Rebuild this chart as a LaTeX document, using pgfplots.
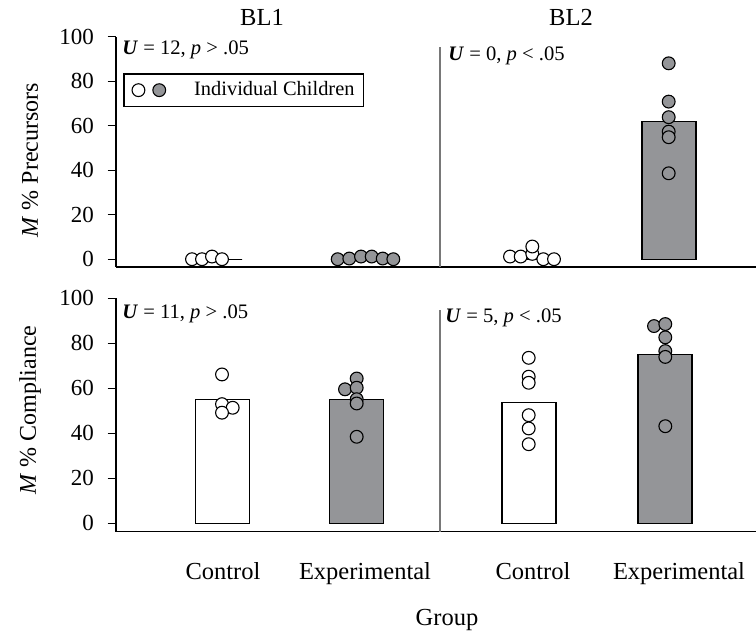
\documentclass[border=0pt]{standalone}
\usepackage{fontspec}
\setmainfont{Liberation Serif}
\usepackage{pgfplots}
\pgfplotsset{compat=1.18}
\definecolor{barg}{RGB}{148,149,152}
\definecolor{sepg}{RGB}{120,120,120}

\tikzset{annot/.style={anchor=west, font=\fontsize{10.3}{12}\selectfont, inner sep=0pt}}
\pgfplotsset{
  panel/.style={
    scale only axis, width=320pt,
    xmin=116, xmax=756,
    axis lines*=left,
    axis line style={black, line width=0.75pt},
    ytick={0,20,40,60,80,100},
    tick align=outside,
    major tick length=4.2pt,
    ytick style={black, line width=0.6pt},
    xtick style={draw=none},
    /pgf/number format/assume math mode=true,
    yticklabel style={font=\fontsize{11.5}{13}\selectfont, xshift=-3.3pt},
    clip=false,
  },
  circW/.style={forget plot, only marks, mark=*, mark size=3.2pt,
    mark options={draw=black, fill=white, line width=0.55pt}},
  circG/.style={forget plot, only marks, mark=*, mark size=3.2pt,
    mark options={draw=black, fill=barg, line width=0.55pt}},
  barW/.style={forget plot, ybar, bar shift=0pt, bar width=54, draw=black, line width=0.6pt, fill=white},
  barG/.style={forget plot, ybar, bar shift=0pt, bar width=54, draw=black, line width=0.6pt, fill=barg},
}

\begin{document}
\begin{tikzpicture}
\path[use as bounding box] (0,0) rectangle (378pt,317pt);

% ---------------- Top row: M % Precursors ----------------
\begin{axis}[panel,
  at={(58pt,183.5pt)}, anchor=south west,
  height=115.2pt, ymin=-3.5, ymax=100,
  xtick=\empty,
  legend style={at={(0.0125,0.8377)}, anchor=north west,
    draw=black, line width=0.6pt, inner xsep=3.75pt, inner ysep=3.8pt, outer sep=0pt,
    nodes={inner sep=0pt, text depth=0.15em},
    font=\fontsize{10.2}{12}\selectfont},
  legend cell align=left,
]
% bars (means)
\addplot[barW] coordinates {(215,0) (532,1.5)};
\addplot[barG] coordinates {(365,0) (669,62)};
% individual children
\addplot[circW] coordinates {
  (192,0) (202,0) (212,1.2) (222,0)
  (510,1.2) (520.7,1.2) (532.3,2.4) (532.3,5.7) (543.3,0) (554,0)
};
\addplot[circG] coordinates {
  (337.7,0) (349.3,0.3) (361,1.2) (371.7,1.2) (382.7,0.3) (393.3,0)
  (668.7,88.0) (668.7,70.8) (668.7,63.8) (668.7,57.3) (668.7,54.8) (668.7,38.6)
};
\draw[sepg, line width=1pt] (axis cs:440,-3.5) -- (axis cs:440,95.4);
\node[annot] at (axis cs:122,94.0) {\textbf{\textit{U}} = 12, \textit{p} > .05};
\node[annot] at (axis cs:448,91.3) {\textbf{\textit{U}} = 0, \textit{p} < .05};
\addlegendimage{legend image code/.code={
  \draw[black, line width=0.55pt, fill=white] (3.2pt,0pt) circle (3.2pt);
  \draw[black, line width=0.55pt, fill=barg] (13.6pt,0pt) circle (3.2pt);}}
\addlegendentry{\hspace*{14pt}Individual Children\hspace*{0.8pt}}
\end{axis}

% ---------------- Bottom row: M % Compliance ----------------
\begin{axis}[panel,
  at={(58pt,51.25pt)}, anchor=south west,
  height=116.55pt, ymin=-3.6, ymax=100,
  xtick={223,365,533,679},
  xticklabels={Control, Experimental, Control, Experimental},
  xticklabel style={font=\fontsize{12.25}{14}\selectfont, yshift=-8pt},
]
\addplot[barW] coordinates {(222.5,55.1) (529,53.8)};
\addplot[barG] coordinates {(356.5,55.2) (665,75.2)};
\addplot[circW] coordinates {
  (222,66.2) (222,53.0) (232.7,51.4) (222,49.2)
  (528.7,73.6) (528.7,65.2) (528.7,62.5) (528.7,48.1) (528.7,42.2) (528.7,35.2)
};
\addplot[circG] coordinates {
  (356.7,64.4) (345,59.6) (356.7,60.3) (356.7,55.2) (356.7,53.3) (356.7,38.5)
  (654,87.7) (665.3,88.6) (665.3,82.7) (665.3,76.6) (665.3,74.0) (665.3,43.2)
};
\draw[sepg, line width=1pt] (axis cs:440,-3.6) -- (axis cs:440,94.8);
\node[annot] at (axis cs:122,93.0) {\textbf{\textit{U}} = 11, \textit{p} > .05};
\node[annot] at (axis cs:445,91.2) {\textbf{\textit{U}} = 5, \textit{p} < .05};
\end{axis}

% ---------------- titles and labels ----------------
\node[font=\fontsize{12.25}{14}\selectfont] at (131pt,308.5pt) {BL1};
\node[font=\fontsize{12.25}{14}\selectfont] at (285.5pt,308.5pt) {BL2};
\node[font=\fontsize{12}{14}\selectfont, rotate=90] at (15pt,237pt) {\textit{M} \% Precursors};
\node[font=\fontsize{12}{14}\selectfont, rotate=90] at (15pt,112pt) {\textit{M} \% Compliance};
\node[font=\fontsize{12.25}{14}\selectfont] at (223.5pt,7pt) {Group};
\end{tikzpicture}
\end{document}
